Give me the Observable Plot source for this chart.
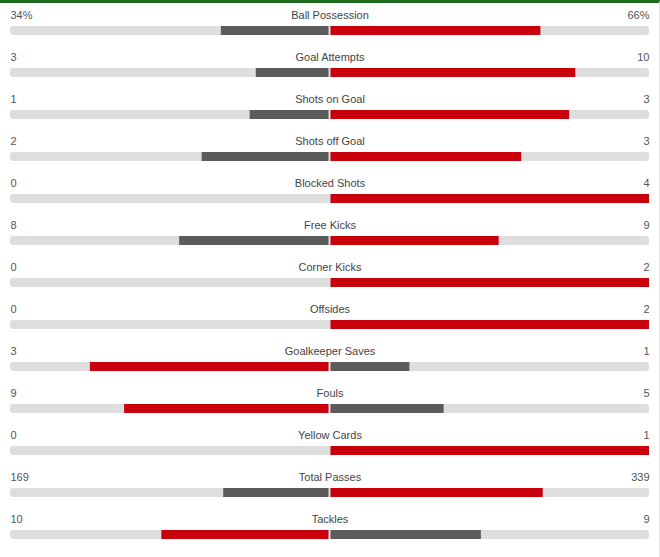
<!DOCTYPE html>
<html>
<head>
<meta charset="utf-8">
<script src="https://cdn.jsdelivr.net/npm/d3@7"></script>
<script src="https://cdn.jsdelivr.net/npm/@observablehq/plot@0.6"></script>
<style>
  html, body { margin: 0; padding: 0; background: #fff; }
  #wrap { width: 659px; border-top: 3px solid #1d6a1d; border-right: 1px solid #e4e4e4; }
  svg { display: block; }
</style>
</head>
<body>
<div id="wrap"></div>
<script>
const categories = ["Ball Possession","Goal Attempts","Shots on Goal","Shots off Goal","Blocked Shots","Free Kicks","Corner Kicks","Offsides","Goalkeeper Saves","Fouls","Yellow Cards","Total Passes","Tackles"];
const homeValues = [34, 3, 1, 2, 0, 8, 0, 0, 3, 9, 0, 169, 10];
const awayValues = [66, 10, 3, 3, 4, 9, 2, 2, 1, 5, 1, 339, 9];
const suffixes   = ["%", "", "", "", "", "", "", "", "", "", "", "", ""];

const RED = "#c8000b", DARK = "#5b5b5b", BG = "#dedede";

const rows = categories.map((c, i) => {
  const h = homeValues[i], a = awayValues[i], t = h + a;
  return {
    cat: c,
    home: h, away: a,
    hs: t ? h / t : 0, as: t ? a / t : 0,
    hLabel: h + suffixes[i], aLabel: a + suffixes[i],
    hColor: h > a ? RED : DARK, aColor: a > h ? RED : DARK
  };
});

const chart = Plot.plot({
  width: 659,
  height: 554,
  marginTop: 0, marginBottom: 0, marginLeft: 0, marginRight: 0,
  x: {domain: [-1, 1], range: [10, 649], axis: null},
  y: {type: "band", domain: categories, range: [6.5, 552.5], paddingInner: 0.786, paddingOuter: 0.393, axis: null},
  style: {fontFamily: "'Liberation Sans', Arial, sans-serif", fontSize: "11px", color: "#555"},
  marks: [
    Plot.barX(rows, {y: "cat", x1: -1, x2: 1, fill: BG, rx: 3}),
    Plot.barX(rows.filter(d => d.home > 0), {y: "cat", x1: d => -d.hs, x2: 0, fill: d => d.hColor, insetRight: 1}),
    Plot.barX(rows.filter(d => d.away > 0), {y: "cat", x1: 0, x2: d => d.as, fill: d => d.aColor, insetLeft: 1}),
    Plot.text(rows, {y: "cat", x: 0, text: "cat", dy: -16, fill: "#444", textAnchor: "middle"}),
    Plot.text(rows, {y: "cat", x: -1, text: "hLabel", dy: -16, fill: "#555", textAnchor: "start"}),
    Plot.text(rows, {y: "cat", x: 1, text: "aLabel", dy: -16, fill: "#555", textAnchor: "end"})
  ]
});
document.getElementById("wrap").appendChild(chart);
</script>
</body>
</html>
